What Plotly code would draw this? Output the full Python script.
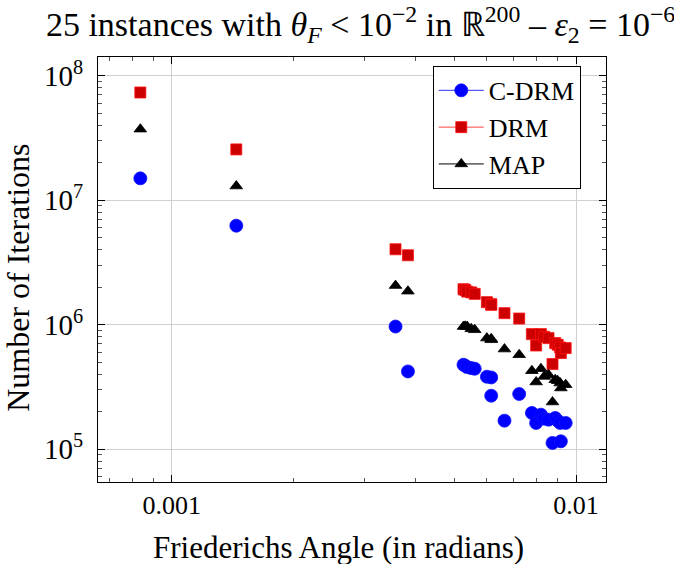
import plotly.graph_objects as go

# Friederichs angle of each of the 25 instances (radians)
angles = [0.000836, 0.001444, 0.003576, 0.003838,
          0.005267, 0.005318, 0.005378, 0.005503, 0.005614,
          0.006017, 0.006167, 0.006167, 0.006651, 0.007233,
          0.007774, 0.007966, 0.008185, 0.008339, 0.008548,
          0.008743, 0.008879, 0.009005, 0.009134, 0.009170, 0.009425]

cdrm_iters = [1.493e7, 6.221e6, 9.638e5, 4.199e5,
              4.752e5, 4.665e5, 4.554e5, 4.471e5, 4.414e5,
              3.806e5, 3.758e5, 2.681e5, 1.689e5, 2.767e5,
              1.948e5, 1.619e5, 1.888e5, 1.753e5, 1.721e5,
              1.119e5, 1.776e5, 1.689e5, 1.619e5, 1.153e5, 1.619e5]

drm_iters = [7.31e7, 2.551e7, 4.023e6, 3.601e6,
             1.922e6, 1.898e6, 1.839e6, 1.812e6, 1.763e6,
             1.512e6, 1.457e6, 1.439e6, 1.234e6, 1.117e6,
             8.375e5, 6.785e5, 8.375e5, 7.969e5, 7.778e5,
             4.814e5, 7.092e5, 6.874e5, 6.540e5, 5.898e5, 6.467e5]

map_iters = [3.710e7, 1.295e7, 2.054e6, 1.853e6,
             9.638e5, 9.674e5, 9.638e5, 9.237e5, 9.069e5,
             7.778e5, 7.679e5, 7.539e5, 6.349e5, 5.715e5,
             4.253e5, 3.452e5, 4.414e5, 3.828e5, 3.950e5,
             2.386e5, 3.601e5, 3.535e5, 3.389e5, 3.090e5, 3.284e5]

series = [
    ("C-DRM", cdrm_iters, "circle", 13, "#0000ff", "#1010ff", "#3030ff"),
    ("DRM", drm_iters, "square", 11, "#cc0000", "#ff1010", "#ff4040"),
    ("MAP", map_iters, "triangle-up", 11, "#000000", "#000000", "#000000"),
]

FONT = "Liberation Serif"

fig = go.Figure()
for name, vals, sym, size, fill, edge, linecol in series:
    fig.add_trace(go.Scatter(x=angles, y=vals, mode="markers", name=name,
                             showlegend=False,
                             marker=dict(symbol=sym, size=size, color=fill,
                                         line=dict(color=edge, width=0.8))))
# legend entries drawn as line + marker, pgfplots style
for name, vals, sym, size, fill, edge, linecol in series:
    fig.add_trace(go.Scatter(x=[None], y=[None], mode="lines+markers", name=name,
                             line=dict(color=linecol, width=1),
                             marker=dict(symbol=sym, size=size, color=fill,
                                         line=dict(color=edge, width=0.8))))

minor_x = [k * 10.0 ** e for e in (-4, -3, -2) for k in range(2, 10)]
minor_y = [k * 10.0 ** e for e in (4, 5, 6, 7, 8) for k in range(2, 10)]

fig.update_layout(
    width=674, height=564,
    paper_bgcolor="white", plot_bgcolor="white",
    font=dict(family=FONT, color="black", size=28),
    margin=dict(l=98, r=68, t=57, b=82),
    title=dict(text="25 instances with <i>θ</i><sub><i>F</i></sub> &lt; 10<sup>−2</sup> in ℝ<sup>200</sup> – <i>ε</i><sub>2</sub> = 10<sup>−6</sup>",
               x=0.535, xanchor="center", y=0.978, yanchor="top",
               font=dict(family=FONT, size=34)),
    xaxis=dict(type="log", range=[-3.1825, -1.926],
               tickmode="array", tickvals=[0.001, 0.01], ticktext=["0.001", "0.01"],
               ticks="inside", ticklen=7, tickcolor="black", ticklabelstandoff=0,
               showline=True, linecolor="black", linewidth=1.2, mirror="ticks",
               showgrid=True, gridcolor="#d0d0d0", gridwidth=1,
               zeroline=False, tickfont=dict(size=26),
               minor=dict(tickmode="array", tickvals=minor_x, ticks="inside",
                          ticklen=4, tickcolor="#555555", showgrid=False)),
    yaxis=dict(type="log", range=[4.735, 8.149],
               tickmode="array", tickvals=[1e5, 1e6, 1e7, 1e8],
               ticktext=["10<sup>5</sup>", "10<sup>6</sup>", "10<sup>7</sup>", "10<sup>8</sup>"],
               ticks="inside", ticklen=7, tickcolor="black", ticklabelstandoff=8,
               showline=True, linecolor="black", linewidth=1.2, mirror="ticks",
               showgrid=True, gridcolor="#d0d0d0", gridwidth=1,
               zeroline=False, tickfont=dict(size=29),
               minor=dict(tickmode="array", tickvals=minor_y, ticks="inside",
                          ticklen=4, tickcolor="#555555", showgrid=False)),
    legend=dict(x=0.659, y=0.979, xanchor="left", yanchor="top",
                bgcolor="white", bordercolor="black", borderwidth=1,
                font=dict(size=26), tracegroupgap=0, itemwidth=45),
    annotations=[
        dict(text="Friederichs Angle (in radians)", xref="paper", yref="paper",
             x=0.473, y=-0.153, xanchor="center", yanchor="middle",
             showarrow=False, font=dict(size=31)),
        dict(text="Number of Iterations", xref="paper", yref="paper",
             x=-0.159, y=0.481, xanchor="center", yanchor="middle",
             textangle=-90, showarrow=False, font=dict(size=32)),
    ],
)

# drop the browser's default 8px body margin so the figure fills the window
fig.write_html("out.html", config={"displayModeBar": False},
               post_script="document.body.style.margin='0px';")
